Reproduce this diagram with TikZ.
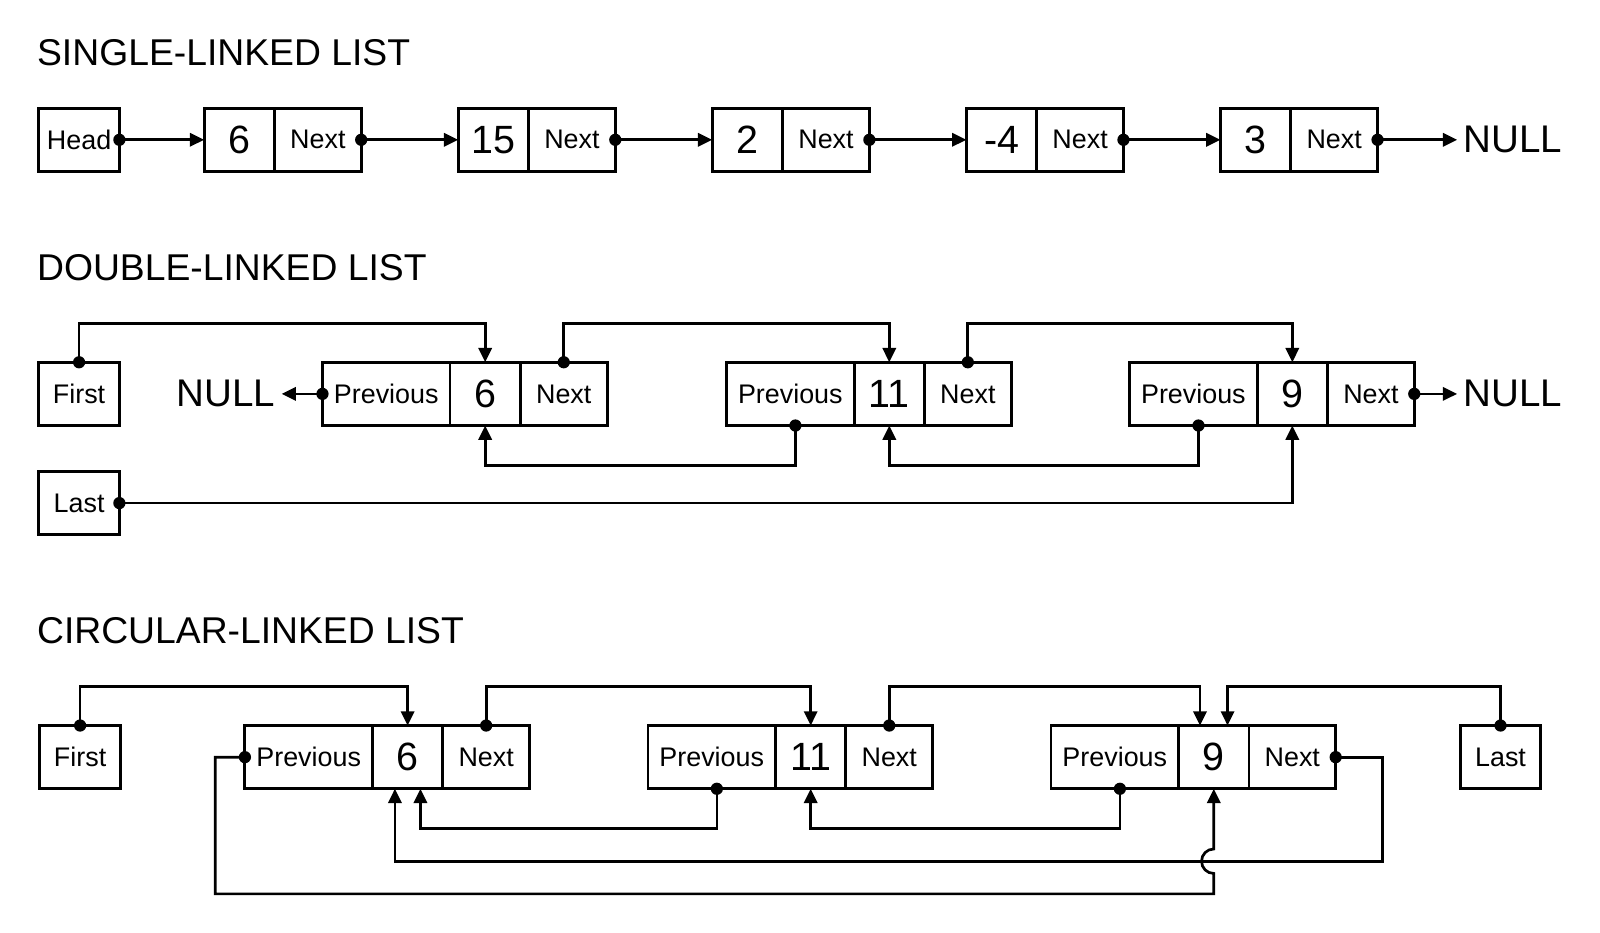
\documentclass[tikz,border=0pt]{standalone}
\usepackage{fontspec}
\setmainfont{Liberation Sans}
\usetikzlibrary{positioning,arrows.meta}

\tikzset{
  cell/.style={draw, line width=1.6pt, outer sep=0pt, inner sep=0pt, minimum height=1.24cm, font=\fontsize{15}{18}\selectfont},
  ptr/.style={cell, minimum width=1.58cm},
  val/.style={cell, minimum width=1.38cm, font=\fontsize{22}{26}\selectfont},
  nxt/.style={cell, minimum width=1.70cm},
  prv/.style={cell, minimum width=2.50cm},
  link/.style={line width=1.5pt, -{Triangle[length=0.28cm,width=0.26cm]}},
  title/.style={anchor=west, inner sep=0pt, font=\fontsize{20.8}{25}\selectfont},
  nul/.style={font=\fontsize{21.5}{25}\selectfont},
}

\begin{document}
\begin{tikzpicture}[x=0.02cm, y=0.02cm]
    \useasboundingbox (0,0) rectangle (1568,-914);

    % single
    \node[title] (t1) at (36,-52) {SINGLE-LINKED LIST};
    \node[ptr] (hd) at (77.5,-137) {Head};
    \node[val] (s1v) at (234.5,-137) {6};
    \node[nxt, right=0pt of s1v] (s1n) {Next};
    \node[val] (s2v) at (483.5,-137) {15};
    \node[nxt, right=0pt of s2v] (s2n) {Next};
    \node[val] (s3v) at (732.5,-137) {2};
    \node[nxt, right=0pt of s3v] (s3n) {Next};
    \node[val] (s4v) at (981.5,-137) {-4};
    \node[nxt, right=0pt of s4v] (s4n) {Next};
    \node[val] (s5v) at (1230.5,-137) {3};
    \node[nxt, right=0pt of s5v] (s5n) {Next};
    \node[nul, anchor=west] (null1) at (1428,-137) {NULL};

    \draw[link] (hd.east) -- (s1v.west);
    \draw[link] (s1n.east) -- (s2v.west);
    \draw[link] (s2n.east) -- (s3v.west);
    \draw[link] (s3n.east) -- (s4v.west);
    \draw[link] (s4n.east) -- (s5v.west);
    \draw[link] (s5n.east) -- (null1.west);
    \fill (hd.east) circle (0.12cm);
    \fill (s1n.east) circle (0.12cm);
    \fill (s2n.east) circle (0.12cm);
    \fill (s3n.east) circle (0.12cm);
    \fill (s4n.east) circle (0.12cm);
    \fill (s5n.east) circle (0.12cm);

    % double
    \node[title] (t2) at (36,-262) {DOUBLE-LINKED LIST};
    \node[ptr] (fst) at (77.5,-386) {First};
    \node[ptr] (lst) at (77.5,-493) {Last};
    \node[prv] (d1p) at (378.5,-386) {Previous};
    \node[val, right=0pt of d1p] (d1v) {6};
    \node[nxt, right=0pt of d1v] (d1n) {Next};
    \node[prv] (d2p) at (774.5,-386) {Previous};
    \node[val, right=0pt of d2p] (d2v) {11};
    \node[nxt, right=0pt of d2v] (d2n) {Next};
    \node[prv] (d3p) at (1169.5,-386) {Previous};
    \node[val, right=0pt of d3p] (d3v) {9};
    \node[nxt, right=0pt of d3v] (d3n) {Next};
    \node[nul, anchor=east] (null2) at (276,-386) {NULL};
    \node[nul, anchor=west] (null3) at (1428,-386) {NULL};

    \draw[link] (fst.north) -- ++(0,38) -| (d1v.north);
    \draw[link] (d1n.north) -- ++(0,38) -| (d2v.north);
    \draw[link] (d2n.north) -- ++(0,38) -| (d3v.north);
    \draw[link] ([xshift=0.1cm]d2p.south) -- ++(0,-39) -| (d1v.south);
    \draw[link] ([xshift=0.1cm]d3p.south) -- ++(0,-39) -| (d2v.south);
    \draw[link] (lst.east) -| (d3v.south);
    \draw[link] (d1p.west) -- (null2.east);
    \draw[link] (d3n.east) -- (null3.west);
    \fill (fst.north) circle (0.12cm);
    \fill (lst.east) circle (0.12cm);
    \fill (d1p.west) circle (0.12cm);
    \fill (d1n.north) circle (0.12cm);
    \fill (d2n.north) circle (0.12cm);
    \fill ([xshift=0.1cm]d2p.south) circle (0.12cm);
    \fill ([xshift=0.1cm]d3p.south) circle (0.12cm);
    \fill (d3n.east) circle (0.12cm);

    % circular
    \node[title] (t3) at (36,-618) {CIRCULAR-LINKED LIST};
    \node[ptr] (cfst) at (78.5,-742) {First};
    \node[ptr] (clst) at (1470.5,-742) {Last};
    \node[prv] (c1p) at (302.5,-742) {Previous};
    \node[val, right=0pt of c1p] (c1v) {6};
    \node[nxt, right=0pt of c1v] (c1n) {Next};
    \node[prv] (c2p) at (697.5,-742) {Previous};
    \node[val, right=0pt of c2p] (c2v) {11};
    \node[nxt, right=0pt of c2v] (c2n) {Next};
    \node[prv] (c3p) at (1092.5,-742) {Previous};
    \node[val, right=0pt of c3p] (c3v) {9};
    \node[nxt, right=0pt of c3v] (c3n) {Next};

    \draw[link] (cfst.north) -- ++(0,38) -| (c1v.north);
    \draw[link] (c1n.north) -- ++(0,38) -| (c2v.north);
    \draw[link] (c2n.north) -- ++(0,38) -| ([xshift=-0.27cm]c3v.north);
    \draw[link] (clst.north) -- ++(0,38) -| ([xshift=0.27cm]c3v.north);
    \draw[link] ([xshift=0.1cm]c2p.south) -- ++(0,-39) -| ([xshift=0.25cm]c1v.south);
    \draw[link] ([xshift=0.1cm]c3p.south) -- ++(0,-39) -| (c2v.south);
    \draw[link] (c3n.east) -- ++(46,0) -- ++(0,-102) -| ([xshift=-0.25cm]c1v.south);
    \draw[link] (c1p.west) -- ++(-29,0) -- ++(0,-134) -| ([yshift=-1.66cm]c3v.south)
        arc[start angle=270, end angle=90, radius=0.24cm] -- (c3v.south);
    \fill (cfst.north) circle (0.12cm);
    \fill (clst.north) circle (0.12cm);
    \fill (c1p.west) circle (0.12cm);
    \fill (c1n.north) circle (0.12cm);
    \fill (c2n.north) circle (0.12cm);
    \fill ([xshift=0.1cm]c2p.south) circle (0.12cm);
    \fill ([xshift=0.1cm]c3p.south) circle (0.12cm);
    \fill (c3n.east) circle (0.12cm);
\end{tikzpicture}
\end{document}
